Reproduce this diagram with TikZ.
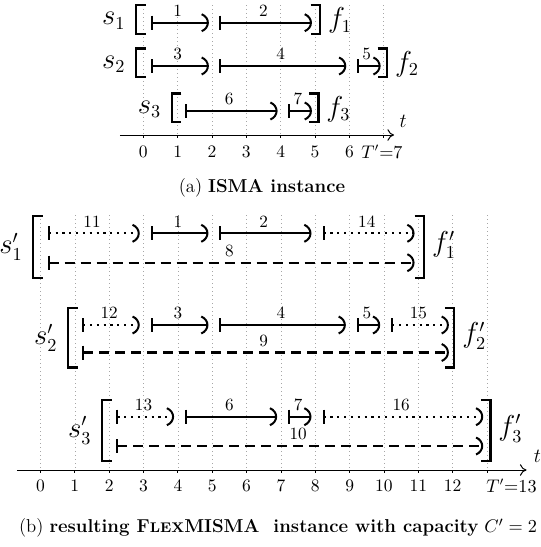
\documentclass[tikz,border=0pt]{standalone}
\usetikzlibrary{arrows.meta}
\begin{document}
\begin{tikzpicture}[x=0.6pt,y=-0.6pt,
  jobline/.style={line width=1.3pt},
  solidjob/.style={jobline},
  dotjob/.style={jobline, dash pattern=on 1.3pt off 2.8pt},
  dashjob/.style={jobline, dash pattern=on 6pt off 3.6pt},
  tipline/.style={line width=1.2pt},
  brk/.style={line width=1.3pt},
  gridline/.style={black!35, line width=0.4pt, dash pattern=on 0.6pt off 1.8pt},
  tickmark/.style={line width=0.5pt},
  axisline/.style={line width=0.6pt, -{To[length=4pt,width=7pt]}},
  joblab/.style={font=\fontsize{10.3}{12}\selectfont, inner sep=0pt},
  ticklab/.style={font=\fontsize{10.5}{12}\selectfont, inner sep=0pt},
  mlab/.style={font=\fontsize{16}{18}\selectfont, inner sep=0pt},
  tlab/.style={font=\large, inner sep=0pt},
  captext/.style={inner sep=0pt, font=\fontsize{11.2}{13}\selectfont}
]
\useasboundingbox (0,0) rectangle (541,547);

% ---------------- (a) ----------------
\begin{scope}[x=20.61pt, xshift=85.98pt]
  \foreach \i in {0,...,7} {
    \draw[gridline] (\i,5) -- (\i,135);
    \draw[tickmark] (\i,135) -- (\i,138);
  }
  \coordinate (aax0) at (-0.68,135);
  \coordinate (aax1) at (7.3,135);
  \draw[axisline] (aax0) -- (aax1);
  \node[tlab, anchor=south west] (at) at (7.45,128) {$t$};
  \foreach \i in {0,...,6} \node[ticklab] (ta\i) at (\i,152) {\i};
  \node[ticklab] (ta7) at (6.95,152) {$T'{=}7$};

  \foreach \m/\L/\R/\y in {1/-0.21/5.15/22.7, 2/-0.21/7.1/66, 3/0.83/5.1/111} {
    \draw[brk] (\L+0.28,\y-17.5) -- (\L,\y-17.5) -- (\L,\y+11) -- (\L+0.28,\y+11);
    \draw[brk] (\R-0.28,\y-17.5) -- (\R,\y-17.5) -- (\R,\y+11) -- (\R-0.28,\y+11);
    \node[mlab, anchor=east] (sa\m) at (\L-0.3,\y-2) {$s_{\m}$};
    \node[mlab, anchor=west] (fa\m) at (\R+0.22,\y-2) {$f_{\m}$};
  }
  \foreach \s/\e/\y/\l/\st in {0/2/22.7/1/solidjob, 2/5/22.7/2/solidjob,
      0/2/66/3/solidjob, 2/6/66/4/solidjob, 6/7/66/5/solidjob,
      1/4/111/6/solidjob, 4/5/111/7/solidjob} {
    \draw[\st] (\s+0.24,\y) -- (\e-0.12,\y);
    \draw[tipline] (\s+0.24,\y-7) -- (\s+0.24,\y+7);
    \draw[tipline] (\e-0.3,\y-8.5) .. controls (\e-0.06,\y-5) and (\e-0.06,\y+5) .. (\e-0.3,\y+8.5);
    \node[joblab] (ja\l) at ({(\s+\e)/2},\y-12) {\l};
  }
\end{scope}
\node[captext] (capa) at (262,188) {(a) \textbf{ISMA instance}};

% ---------------- (b) ----------------
\begin{scope}[x=20.61pt, xshift=24.3pt]
  \foreach \i in {0,...,13} {
    \draw[gridline] (\i,215) -- (\i,470);
    \draw[tickmark] (\i,470) -- (\i,473);
  }
  \coordinate (bax0) at (-0.69,470);
  \coordinate (bax1) at (14.15,470);
  \draw[axisline] (bax0) -- (bax1);
  \node[tlab, anchor=south west] (bt) at (14.35,463) {$t$};
  \foreach \i in {0,...,12} \node[ticklab] (tb\i) at (\i,486) {\i};
  \node[ticklab, anchor=west] (tb13) at (12.97,486) {$T'{=}13$};

  \foreach \m/\L/\R/\yt/\yb in {1/-0.21/11.17/233.3/262.7, 2/0.8/12.05/325/352.5, 3/1.79/13.1/416.7/446} {
    \draw[brk] (\L+0.28,\yt-17) -- (\L,\yt-17) -- (\L,\yb+15) -- (\L+0.28,\yb+15);
    \draw[brk] (\R-0.28,\yt-17) -- (\R,\yt-17) -- (\R,\yb+15) -- (\R-0.28,\yb+15);
    \node[mlab, anchor=east] (sb\m) at (\L-0.3,{(\yt+\yb)/2-1}) {$s'_{\m}$};
    \node[mlab, anchor=west] (fb\m) at (\R+0.22,{(\yt+\yb)/2-3}) {$f'_{\m}$};
  }
  \foreach \s/\e/\y/\l/\st in {
      0/3/233.3/11/dotjob, 3/5/233.3/1/solidjob, 5/8/233.3/2/solidjob, 8/11/233.3/14/dotjob,
      0/11/262.7/8/dashjob,
      1/3/325/12/dotjob, 3/5/325/3/solidjob, 5/9/325/4/solidjob, 9/10/325/5/solidjob, 10/12/325/15/dotjob,
      1/12/352.5/9/dashjob,
      2/4/416.7/13/dotjob, 4/7/416.7/6/solidjob, 7/8/416.7/7/solidjob, 8/13/416.7/16/dotjob,
      2/13/446/10/dashjob} {
    \draw[\st] (\s+0.24,\y) -- (\e-0.14,\y);
    \draw[tipline] (\s+0.24,\y-7) -- (\s+0.24,\y+7);
    \draw[tipline] (\e-0.32,\y-8.5) .. controls (\e-0.08,\y-5) and (\e-0.08,\y+5) .. (\e-0.32,\y+8.5);
    \node[joblab] (jb\l) at ({(\s+\e)/2},\y-12) {\l};
  }
\end{scope}
\node[captext] (capb) at (278,528) {(b) \textbf{resulting F{\fontsize{8.4}{9}\selectfont LEX}MISMA\ \ instance with capacity} $C' = 2$};
\end{tikzpicture}
\end{document}
